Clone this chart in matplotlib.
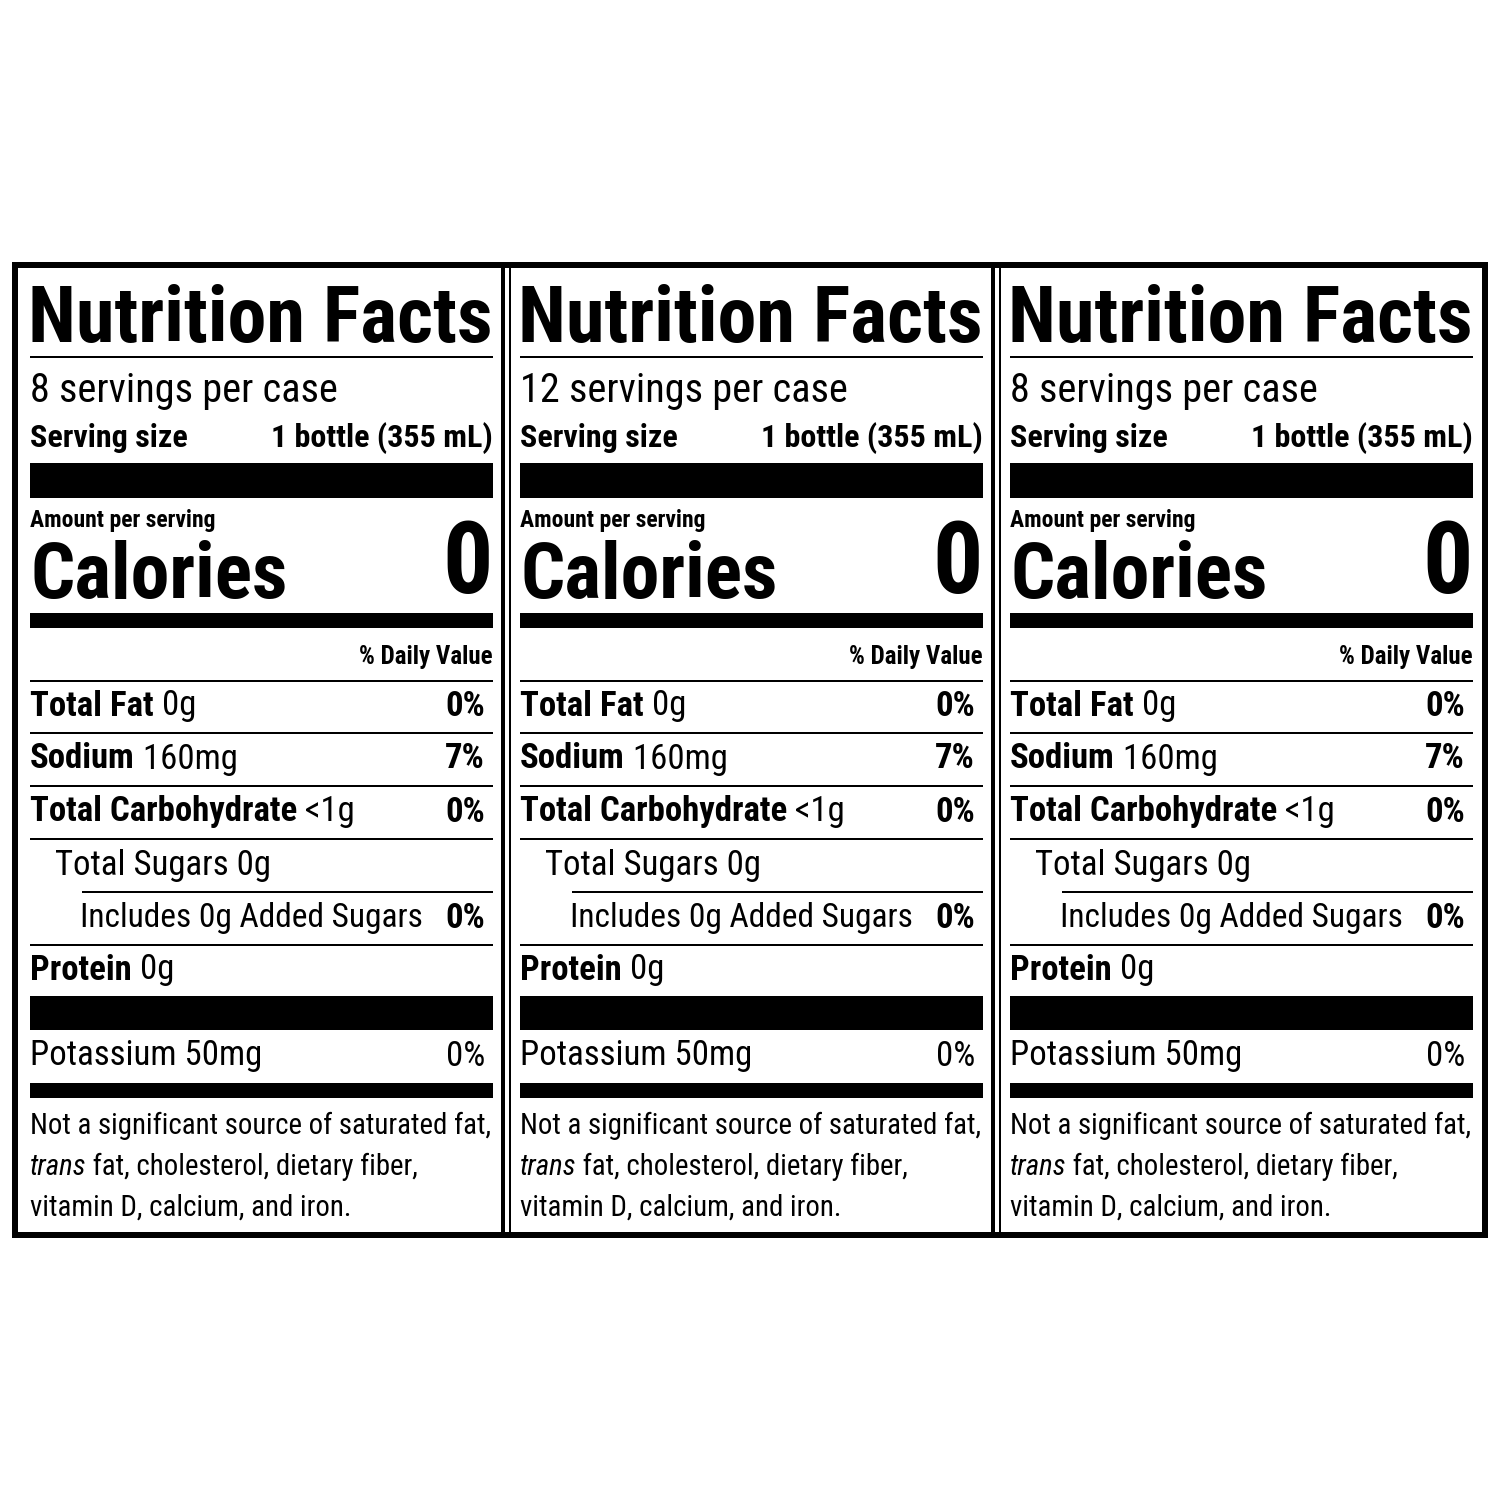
import matplotlib
matplotlib.use('Agg')
import matplotlib.pyplot as plt
from matplotlib import font_manager
from matplotlib.patches import Rectangle

fonts = font_manager.fontManager.ttflist
names = set(f.name for f in fonts)
STRETCH = 'normal'
FONT = 'Liberation Sans'
for cand in ('Liberation Sans Narrow', 'Roboto Condensed', 'Open Sans Condensed'):
    if cand in names:
        FONT = cand
        break
else:
    if any(f.name == 'DejaVu Sans' and f.stretch == 'condensed' for f in fonts):
        FONT = 'DejaVu Sans'
        STRETCH = 'condensed'

# data
servings = ['8 servings per case', '12 servings per case', '8 servings per case']
serving_size = '1 bottle (355 mL)'
calories = '0'
rows = [('Total Fat', ' 0g', '0%', 0), ('Sodium', ' 160mg', '7%', 0),
        ('Total Carbohydrate', ' <1g', '0%', 0), ('', 'Total Sugars 0g', '', 1),
        ('', 'Includes 0g Added Sugars', '0%', 2), ('Protein', ' 0g', '', 0)]
potassium = ('Potassium 50mg', '0%')
foot = ['Not a significant source of saturated fat,', ' fat, cholesterol, dietary fiber,',
        'vitamin D, calcium, and iron.']

fig = plt.figure(figsize=(15, 15), dpi=100)
ax = fig.add_axes([0, 0, 1, 1])
ax.set_xlim(0, 1500); ax.set_ylim(1500, 0); ax.axis('off')
r = fig.canvas.get_renderer()

def width(t):
    return t.get_window_extent(r).width

def txt(x, y, s, size, bold=False, ha='left', style='normal', maxw=None):
    t = ax.text(x, y, s, fontsize=size, family=FONT, fontweight='bold' if bold else 'normal',
                ha=ha, va='center', style=style, fontstretch=STRETCH)
    if maxw is not None:
        w = width(t)
        if w > maxw:
            t.set_fontsize(size * maxw / w)
    return t

def bar(x0, x1, y0, y1):
    ax.add_patch(Rectangle((x0, y0), x1 - x0, y1 - y0, color='black', lw=0))

# common footnote size fitted to the widest line
probe = txt(0, 0, foot[0], 24.5)
fsize = min(24.5, 24.5 * 460 / width(probe))
probe.remove()

bar(12, 1488, 262, 268); bar(12, 1488, 1232, 1238)
bar(12, 18, 262, 1238); bar(1482, 1488, 262, 1238)
for xd in (501, 991):
    bar(xd, xd + 4, 262, 1238); bar(xd + 8, xd + 10, 262, 1238)

for p in range(3):
    L = 30 + p * 490
    R = L + 463
    txt(L - 2, 321, 'Nutrition Facts', 62, bold=True, maxw=465)
    bar(L, R, 356, 358)
    txt(L, 391, servings[p], 29)
    txt(L, 438, 'Serving size', 23, bold=True)
    txt(R, 438, serving_size, 23, bold=True, ha='right')
    bar(L, R, 463, 498)
    txt(L, 521, 'Amount per serving', 17, bold=True)
    txt(L, 577, 'Calories', 56, bold=True)
    txt(R, 565, calories, 72, bold=True, ha='right')
    bar(L, R, 613, 628)
    txt(R, 657, '% Daily Value', 18, bold=True, ha='right')
    bar(L, R, 680, 682)
    ys = [706, 759, 812, 865, 918, 970]
    for i, (b, n, dv, ind) in enumerate(rows):
        y = ys[i]
        x = L + ind * 25
        if b:
            t = txt(x, y, b, 25, bold=True)
            x += width(t)
        txt(x, y, n, 25, maxw=(R - 70 - x) if dv else None)
        if dv:
            txt(R - 8, y, dv, 25, bold=True, ha='right')
        if i < 5:
            lx = L + 52 if i == 3 else L
            bar(lx, R, y + 26, y + 28)
    bar(L, R, 996, 1030)
    txt(L, 1056, potassium[0], 25)
    txt(R - 8, 1056, potassium[1], 25, ha='right')
    bar(L, R, 1083, 1098)
    txt(L, 1126, foot[0], fsize)
    t = txt(L, 1167, 'trans', fsize, style='italic')
    txt(L + width(t), 1167, foot[1], fsize)
    txt(L, 1208, foot[2], fsize)

fig.savefig('out.png', dpi=100)
